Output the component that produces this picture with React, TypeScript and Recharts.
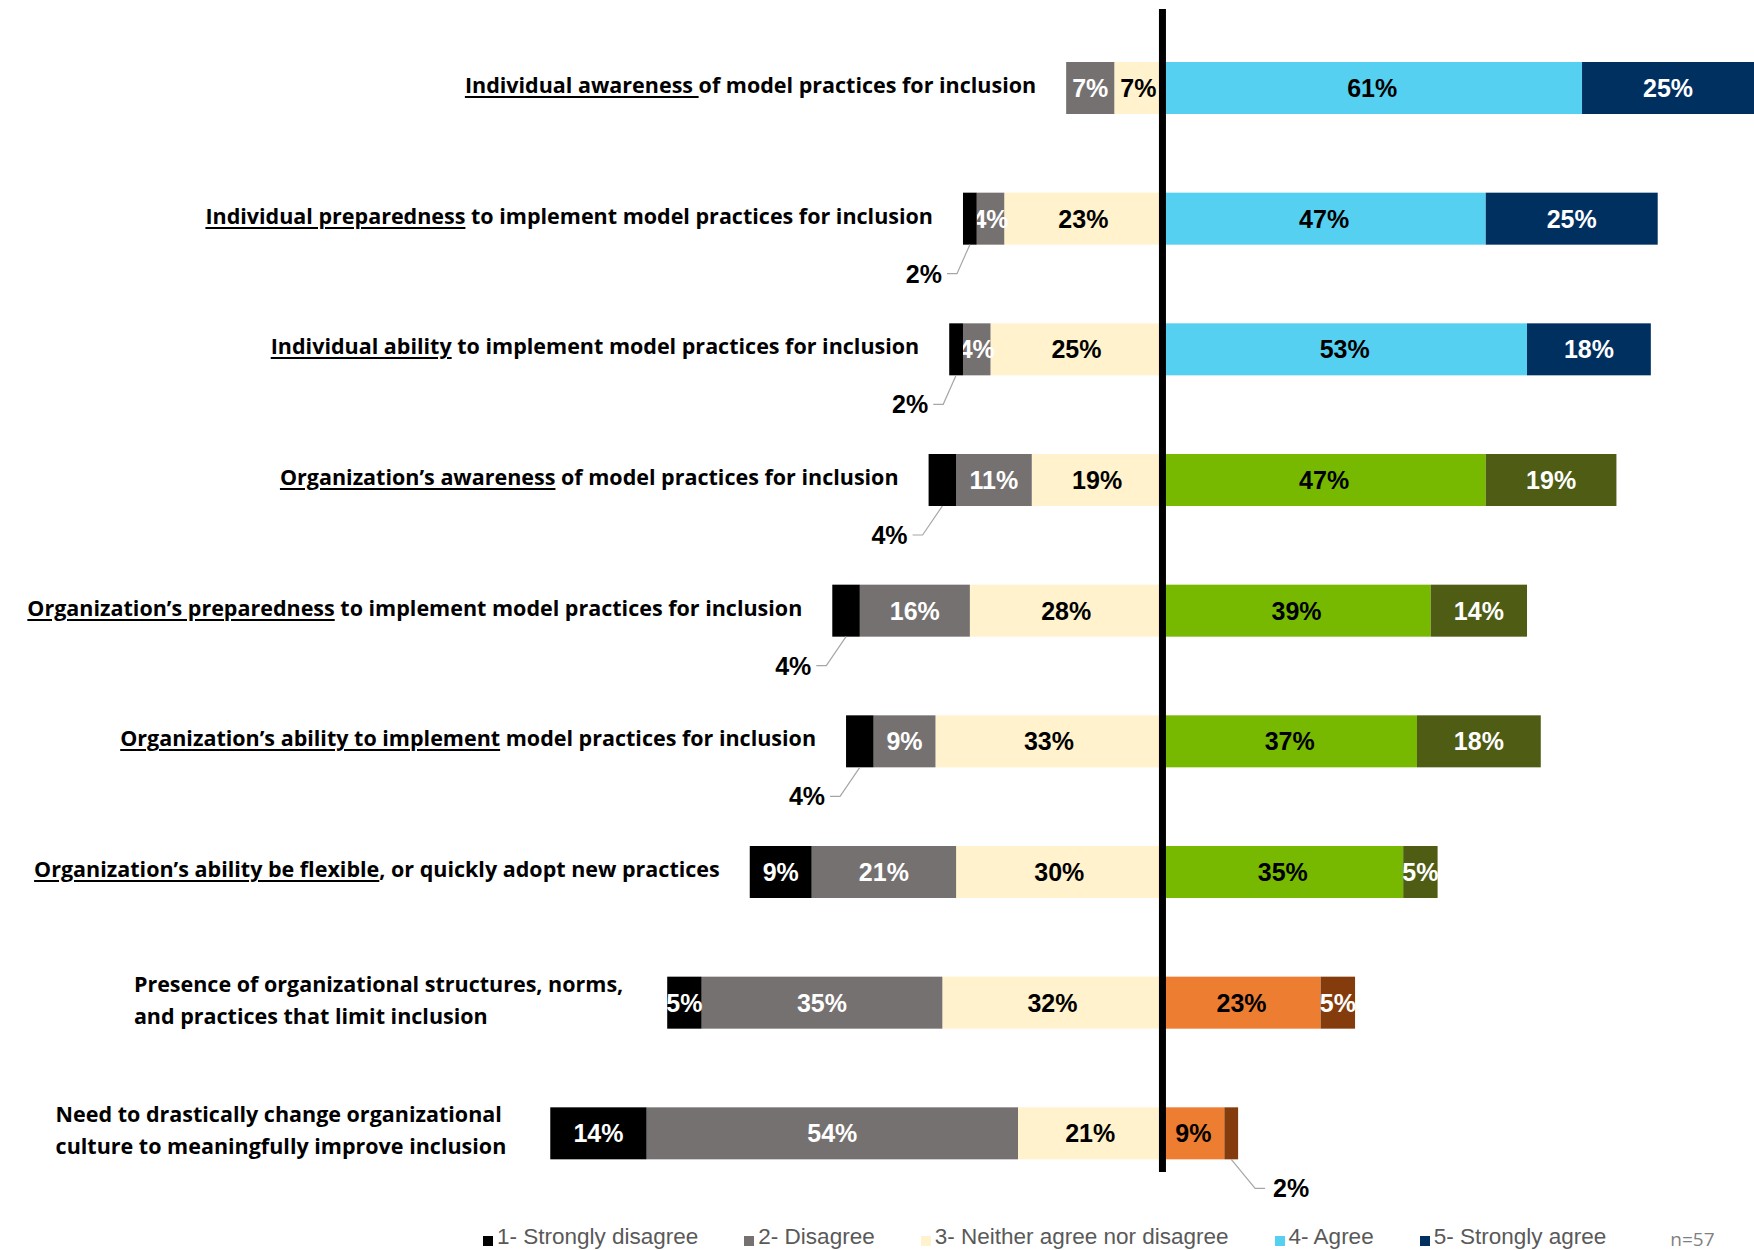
import React from 'react'
import { BarChart, Bar, XAxis, YAxis, ReferenceLine, Legend } from 'recharts'

// statement text: underlined lead-in + the rest ("\n" = line break)
const underlinedText = [
  'Individual awareness ',
  'Individual preparedness',
  'Individual ability',
  'Organization’s awareness',
  'Organization’s preparedness',
  'Organization’s ability to implement',
  'Organization’s ability be flexible',
  '',
  '',
]
const plainText = [
  'of model practices for inclusion',
  ' to implement model practices for inclusion',
  ' to implement model practices for inclusion',
  ' of model practices for inclusion',
  ' to implement model practices for inclusion',
  ' model practices for inclusion',
  ', or quickly adopt new practices',
  'Presence of organizational structures, norms,\nand practices that limit inclusion',
  'Need to drastically change organizational\nculture to meaningfully improve inclusion',
]
const categories = underlinedText.map((u, i) => (u + plainText[i]).replace('\n', ' '))

// percentages of respondents (n=57)
const stronglyDisagree = [0, 2, 2, 4, 4, 4, 9, 5, 14]
const disagree = [7, 4, 4, 11, 16, 9, 21, 35, 54]
const neutral = [7, 23, 25, 19, 28, 33, 30, 32, 21]
const agree = [61, 47, 53, 47, 39, 37, 35, 23, 9]
const stronglyAgree = [25, 25, 18, 19, 14, 18, 5, 5, 2]

// which palette the agree side uses on each row
const colorGroup = [0, 0, 0, 1, 1, 1, 1, 2, 2]

const legendLabels = [
  '1- Strongly disagree',
  '2- Disagree',
  '3- Neither agree nor disagree',
  '4- Agree',
  '5- Strongly agree',
]
const sampleNote = 'n=57'

const AGREE_COLORS = ['#56D0F1', '#77B900', '#ED7D31']
const STRONG_AGREE_COLORS = ['#003060', '#4E5C14', '#843C0C']
const NEG_COLORS: Record<string, string> = {
  stronglyDisagree: '#000000',
  disagree: '#767171',
  neutral: '#FFF2CC',
}
const LEGEND_COLORS = ['#000000', '#767171', '#FFF2CC', '#56D0F1', '#003060']

type SegKey = 'stronglyDisagree' | 'disagree' | 'neutral' | 'agree' | 'stronglyAgree'

const rows = categories.map((name, i) => ({
  name,
  neutral: -neutral[i],
  disagree: -disagree[i],
  stronglyDisagree: -stronglyDisagree[i],
  agree: agree[i],
  stronglyAgree: stronglyAgree[i],
}))

const NUM_FONT = '"Liberation Sans Narrow", "Arial Narrow", Arial, sans-serif'
const TEXT_FONT = '"Open Sans", "Noto Sans", sans-serif'
const LEADER = '#A6A6A6'

function fillFor(key: SegKey, i: number) {
  if (key === 'agree') return AGREE_COLORS[colorGroup[i]]
  if (key === 'stronglyAgree') return STRONG_AGREE_COLORS[colorGroup[i]]
  return NEG_COLORS[key]
}

function CategoryLabel({ i, right, cy }: { i: number; right: number; cy: number }) {
  const lines = plainText[i].split('\n')
  const gap = lines.length > 1 ? 44 : 30
  const boxH = 100
  return (
    <foreignObject x={0} y={cy - boxH / 2 - 3} width={Math.max(0, right - gap)} height={boxH}>
      <div
        style={{
          width: '100%',
          height: '100%',
          display: 'flex',
          justifyContent: 'flex-end',
          alignItems: 'center',
        }}
      >
        <div
          style={{
            fontFamily: TEXT_FONT,
            fontWeight: 700,
            fontSize: 21.5,
            lineHeight: '32px',
            color: '#000',
            whiteSpace: 'nowrap',
            textAlign: 'left',
          }}
        >
          {underlinedText[i] && (
            <span style={{ textDecoration: 'underline', textDecorationThickness: '1.5px', textUnderlineOffset: '3px' }}>
              {underlinedText[i]}
            </span>
          )}
          {lines.map((l, k) => (
            <React.Fragment key={k}>
              {k > 0 && <br />}
              {l}
            </React.Fragment>
          ))}
        </div>
      </div>
    </foreignObject>
  )
}

function segmentShape(key: SegKey) {
  return (props: any) => {
    const x = Number(props.x) || 0
    const y = Number(props.y) || 0
    const width = Number(props.width) || 0
    const height = Number(props.height) || 0
    const i = typeof props.index === 'number' ? props.index : categories.indexOf(props.payload?.name)
    const row = rows[i]
    if (!row) return <g />
    const value = Math.abs(row[key])
    const left = Math.min(x, x + width)
    const w = Math.abs(width)
    const right = left + w
    const bottom = y + height
    const cy = y + height / 2
    const darkText = key === 'neutral' || key === 'agree'
    const small = (key === 'stronglyDisagree' || key === 'stronglyAgree') && value < 5
    const leftmost =
      value > 0 &&
      (key === 'stronglyDisagree' ||
        (key === 'disagree' && row.stronglyDisagree === 0) ||
        (key === 'neutral' && row.stronglyDisagree === 0 && row.disagree === 0))
    const calloutY = bottom + 29
    return (
      <g>
        {w > 0 && <rect x={left} y={y} width={w} height={height} fill={fillFor(key, i)} />}
        {value > 0 && !small && (
          <text
            x={left + w / 2}
            y={cy}
            textAnchor="middle"
            dominantBaseline="central"
            fontFamily={NUM_FONT}
            fontWeight={700}
            fontSize={25}
            fill={darkText ? '#000' : '#fff'}
          >
            {value}%
          </text>
        )}
        {value > 0 && small && key === 'stronglyDisagree' && (
          <g>
            <polyline
              points={`${left + w / 2},${bottom} ${left - 6},${calloutY} ${left - 16},${calloutY}`}
              fill="none"
              stroke={LEADER}
              strokeWidth={1.2}
            />
            <text
              x={left - 21}
              y={calloutY}
              textAnchor="end"
              dominantBaseline="central"
              fontFamily={NUM_FONT}
              fontWeight={700}
              fontSize={25}
              fill="#000"
            >
              {value}%
            </text>
          </g>
        )}
        {value > 0 && small && key === 'stronglyAgree' && (
          <g>
            <polyline
              points={`${left + w / 2},${bottom} ${right + 17},${calloutY} ${right + 27},${calloutY}`}
              fill="none"
              stroke={LEADER}
              strokeWidth={1.2}
            />
            <text
              x={right + 35}
              y={calloutY}
              textAnchor="start"
              dominantBaseline="central"
              fontFamily={NUM_FONT}
              fontWeight={700}
              fontSize={25}
              fill="#000"
            >
              {value}%
            </text>
          </g>
        )}
        {leftmost && <CategoryLabel i={i} right={left} cy={cy} />}
      </g>
    )
  }
}

function LegendContent() {
  return (
    <div
      style={{
        display: 'flex',
        alignItems: 'center',
        paddingLeft: 483,
        fontFamily: NUM_FONT,
        fontSize: 22.5,
        lineHeight: '26px',
        color: '#595959',
        whiteSpace: 'nowrap',
      }}
    >
      {legendLabels.map((label, i) => (
        <span key={label} style={{ display: 'flex', alignItems: 'center', marginRight: 46 }}>
          <span
            style={{
              display: 'inline-block',
              width: 10,
              height: 10,
              marginTop: 7,
              marginRight: 4,
              background: LEGEND_COLORS[i],
            }}
          />
          {label}
        </span>
      ))}
      <span style={{ marginLeft: 18, marginTop: 4, fontFamily: TEXT_FONT, fontSize: 19, color: '#7F7F7F' }}>
        {sampleNote}
      </span>
    </div>
  )
}

const SERIES: SegKey[] = ['neutral', 'disagree', 'stronglyDisagree', 'agree', 'stronglyAgree']

export default function App() {
  return (
    <div style={{ position: 'absolute', left: 0, top: 0, width: 1754, height: 1250, background: '#fff' }}>
      <BarChart
        width={1754}
        height={1250}
        data={rows}
        layout="vertical"
        stackOffset="sign"
        barSize={52}
        margin={{ top: 23, right: 0, bottom: 51, left: 0 }}
      >
        <XAxis type="number" domain={[-169, 86]} hide allowDataOverflow />
        <YAxis type="category" dataKey="name" hide />
        {SERIES.map((key) => (
          <Bar
            key={key}
            dataKey={key}
            stackId="s"
            fill={NEG_COLORS[key] ?? AGREE_COLORS[0]}
            shape={segmentShape(key)}
            isAnimationActive={false}
          />
        ))}
        <ReferenceLine
          x={0}
          zIndex={1500}
          shape={(p: any) => (
            <line
              x1={p.x1}
              x2={p.x2}
              y1={Math.min(p.y1, p.y2) - 14}
              y2={Math.max(p.y1, p.y2) - 27}
              stroke="#000"
              strokeWidth={7}
            />
          )}
        />
        <Legend
          verticalAlign="middle"
          align="center"
          layout="horizontal"
          wrapperStyle={{ left: 0, top: 1222, width: 1754, height: 28 }}
          content={() => <LegendContent />}
        />
      </BarChart>
    </div>
  )
}
